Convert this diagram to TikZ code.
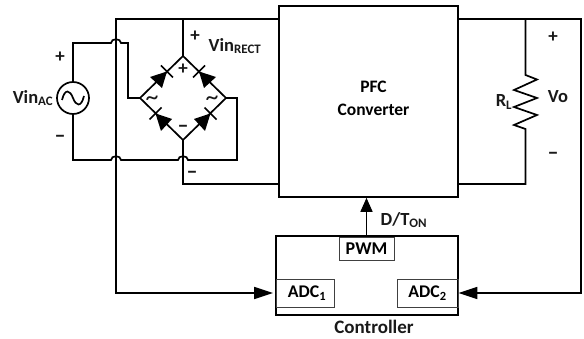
\documentclass[tikz,border=0pt]{standalone}
\usepackage{fontspec}
\setmainfont{Carlito}
\usetikzlibrary{arrows.meta}
\tikzset{
  wire/.style={line width=1.7pt,black},
  lbl/.style={font=\bfseries\fontsize{18.5}{20}\selectfont,inner sep=0pt,text=black!90},
  sym/.style={font=\bfseries\fontsize{19}{19}\selectfont,inner sep=0pt,text=black!90},
  minussign/.style={font=\bfseries\fontsize{22}{22}\selectfont,inner sep=0pt,text=black!90},
  tildesign/.style={font=\fontsize{26}{26}\selectfont,inner sep=0pt,text=black!90},
  mainbox/.style={draw=black,line width=1.7pt,inner sep=0pt,align=center,font=\bfseries\fontsize{17.5}{23}\selectfont},
  subbox/.style={draw=black!75,line width=0.9pt,inner sep=0pt,font=\bfseries\fontsize{18}{20}\selectfont},
  adcbox/.style={subbox,font=\bfseries\fontsize{17.8}{20}\selectfont},
  tip/.style={-{Triangle[length=14pt,width=12pt]}},
  longtip/.style={-{Triangle[length=19pt,width=12pt]}},
}
\begin{document}
\begin{tikzpicture}[x=1pt,y=-1pt]
\useasboundingbox (0,0) rectangle (584,339);
% boxes
\node[mainbox,minimum width=179pt,minimum height=191pt] (pfc) at (368.5,101.5) {};
\node[inner sep=0pt,align=center,font=\bfseries\fontsize{17.5}{23}\selectfont] (pfctext) at (373.5,98) {PFC\\Converter};
\node[mainbox,minimum width=182pt,minimum height=79pt] (ctrl) at (367,275.5) {};
\node[subbox,minimum width=55pt,minimum height=23pt] (pwm) at (366.5,248.5) {PWM};
\node[adcbox,minimum width=58pt,minimum height=28pt] (adca) at (305,293) {\hspace*{4pt}ADC\textsubscript{1}};
\node[adcbox,minimum width=61pt,minimum height=28pt] (adcb) at (427.5,293) {ADC\textsubscript{2}};
\node[lbl,font=\bfseries\fontsize{19}{20}\selectfont] (ctrllbl) at (374,327) {Controller};
% source
\node[draw=black,line width=1.7pt,circle,minimum size=32pt,inner sep=0pt] (src) at (73,98) {};
\draw[wire] (62,100) .. controls (65,88) and (70,90) .. (73,98) .. controls (76,106) and (81,108) .. (84,96);
% bridge corners
\coordinate (bt) at (183,56);
\coordinate (bl) at (140,98);
\coordinate (br) at (226,98);
\coordinate (bb) at (183,140);
\draw[wire,line join=miter] (bt) -- (bl) -- (bb) -- (br) -- cycle;
% diodes: top-left, top-right, bottom-left, bottom-right
\fill (167,71.5) -- (150,77) -- (162,88) -- cycle;
\draw[wire] (161,65.5) -- (173,77.5);
\fill (199,71.5) -- (216,77) -- (204,88) -- cycle;
\draw[wire] (205,65.5) -- (193,77.5);
\fill (155.5,113.5) -- (172,119) -- (161,131) -- cycle;
\draw[wire] (149.5,119.5) -- (161.5,107.5);
\fill (210.5,113.5) -- (194,119) -- (205,131) -- cycle;
\draw[wire] (216.5,119.5) -- (204.5,107.5);
% wiring
\coordinate (srcT) at (73,43);
\coordinate (srcB) at (73,160);
\coordinate (railT) at (116,19);
\draw[wire] (src.north) -- (srcT) -- (111,43) .. controls (111,38) and (121,38) .. (121,43) -- (128,43) -- (128,98) -- (bl);
\draw[wire] (src.south) -- (srcB) -- (111,160) .. controls (111,155) and (121,155) .. (121,160) -- (178,160) .. controls (178,155) and (188,155) .. (188,160) -- (237,160) -- (237,98) -- (br);
\draw[wire] (bb) -- (183,184) -- (183,184 -| pfc.west);
\draw[wire] (bt) -- (183,19);
\draw[wire,longtip,shorten >=2.5pt] (pfc.west |- railT) -- (railT) -- (116,293) -- (adca.west);
% output
\coordinate (outT) at (458,19);
\coordinate (outB) at (458,184);
\coordinate (rT) at (525.5,75);
\coordinate (rB) at (525.5,129);
\draw[wire,line join=miter] (525.5,19) -- (rT) -- (537,79.5) -- (514,90) -- (537,98) -- (514,107) -- (537,115) -- (514,125) -- (rB) -- (525.5,184) -- (outB -| pfc.east);
\draw[wire,longtip] (outT -| pfc.east) -- (581,19) -- (581,293) -- (adcb.east);
% PWM
\draw[wire,tip] (pwm.north) -- (pwm.north |- pfc.south);
% labels
\node[sym] (lp1) at (60,57) {+};
\node[minussign] (lm1) at (60,139) {–};
\node[lbl] (vinac) at (33,98) {Vin\textsubscript{AC}};
\node[sym] (lp2) at (195,36) {+};
\node[lbl] (vinr) at (235,46) {Vin\textsubscript{RECT}};
\node[minussign] (lm2) at (192,175) {–};
\node[sym] (bp) at (183,69) {+};
\node[minussign] (bm) at (183,129) {–};
\node[tildesign] (bl1) at (152,101) {\textasciitilde};
\node[tildesign] (br1) at (212,101) {\textasciitilde};
\node[lbl] (rl) at (504,102) {R\textsubscript{L}};
\node[lbl] (vo) at (558,97) {Vo};
\node[sym] (op) at (553,37) {+};
\node[minussign] (om) at (553,156) {–};
\node[lbl] (dton) at (404,220) {D/T\textsubscript{ON}};
\end{tikzpicture}
\end{document}
